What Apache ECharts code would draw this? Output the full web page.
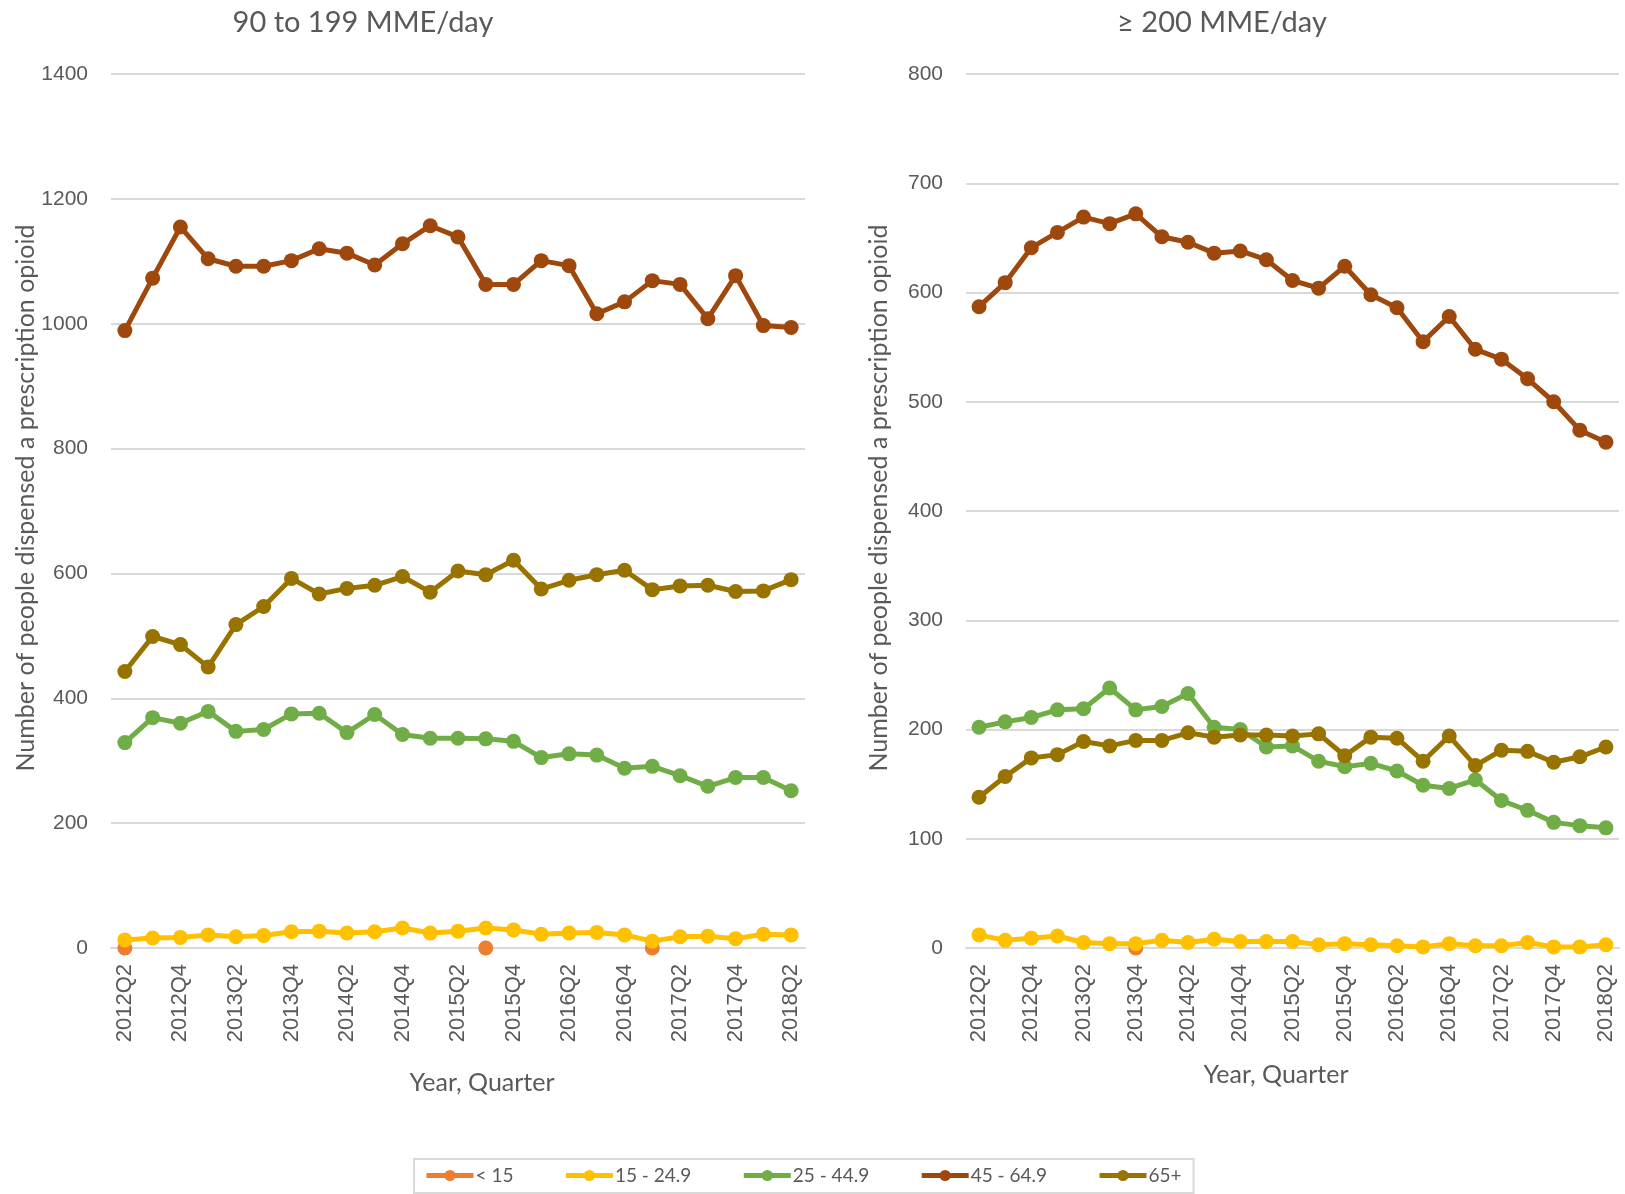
<!DOCTYPE html>
<html>
<head>
<meta charset="utf-8">
<script src="https://cdn.jsdelivr.net/npm/echarts@6/dist/echarts.min.js"></script>
<style>
  html, body { margin: 0; padding: 0; background: #ffffff; }
  #chart { width: 1625px; height: 1194px; }
</style>
</head>
<body>
<div id="chart"></div>
<script>
// Quarterly categories shared by both panels
const quarters = [
  '2012Q2', '2012Q3', '2012Q4',
  '2013Q1', '2013Q2', '2013Q3', '2013Q4',
  '2014Q1', '2014Q2', '2014Q3', '2014Q4',
  '2015Q1', '2015Q2', '2015Q3', '2015Q4',
  '2016Q1', '2016Q2', '2016Q3', '2016Q4',
  '2017Q1', '2017Q2', '2017Q3', '2017Q4',
  '2018Q1', '2018Q2'
];

// Age groups (legend) and their colours
const ageGroups = ['< 15', '15 - 24.9', '25 - 44.9', '45 - 64.9', '65+'];
const groupColors = ['#ED7D31', '#FFC000', '#70AD47', '#9E480E', '#997300'];

// Panel titles and axis ticks
const panelTitles = ['90 to 199 MME/day', '\u2265 200 MME/day'];
const yTicksMid = [0, 200, 400, 600, 800, 1000, 1200, 1400];
const yTicksHigh = [0, 100, 200, 300, 400, 500, 600, 700, 800];

// 90 to 199 MME/day: people dispensed a prescription opioid, by age group
const midLt15 = [0, null, null, null, null, null, null, null, null, null, null, null, null,
  0, null, null, null, null, null, 0, null, null, null, null, null];
const mid15to24 = [13, 16, 17, 21, 18, 20, 26, 27, 24, 26, 32, 24, 27, 32, 29, 22, 24, 25, 21, 11, 18, 19, 15, 22, 21];
const mid25to44 = [329, 369, 360, 379, 347, 350, 375, 376, 345, 374, 342, 336, 336, 335, 331, 305, 311, 309, 288, 291, 276, 259, 273, 273, 252];
const mid45to64 = [989, 1073, 1155, 1104, 1092, 1092, 1101, 1120, 1113, 1094, 1128, 1157, 1139, 1063, 1063, 1101, 1093, 1016, 1035, 1069, 1063, 1008, 1077, 997, 994];
const mid65plus = [443, 499, 486, 450, 518, 547, 592, 567, 576, 581, 595, 570, 604, 598, 621, 575, 589, 598, 605, 574, 580, 581, 571, 572, 590];

// >= 200 MME/day
const highLt15 = [null, null, null, null, null, null, 0, null, null, null, null, null, null,
  null, null, null, null, null, null, null, null, null, null, null, null];
const high15to24 = [12, 7, 9, 11, 5, 4, 4, 7, 5, 8, 6, 6, 6, 3, 4, 3, 2, 1, 4, 2, 2, 5, 1, 1, 3];
const high25to44 = [202, 207, 211, 218, 219, 238, 218, 221, 233, 202, 200, 184, 185, 171, 166, 169, 162, 149, 146, 154, 135, 126, 115, 112, 110];
const high45to64 = [587, 609, 641, 655, 669, 663, 672, 651, 646, 636, 638, 630, 611, 604, 624, 598, 586, 555, 578, 548, 539, 521, 500, 474, 463];
const high65plus = [138, 157, 174, 177, 189, 185, 190, 190, 197, 193, 195, 195, 194, 196, 176, 193, 192, 171, 194, 167, 181, 180, 170, 175, 184];

const panels = [
  [midLt15, mid15to24, mid25to44, mid45to64, mid65plus],
  [highLt15, high15to24, high25to44, high45to64, high65plus]
];
const yTicks = [yTicksMid, yTicksHigh];

const TEXT = '#595959';
const GRID_LINE = '#D9D9D9';
const UI_FONT = 'Lato, "Noto Sans", sans-serif';
const TICK_FONT = '"Liberation Sans", Arial, sans-serif';
const Y_TITLE = 'Number of people dispensed a prescription opioid';

const grids = [
  { left: 111, right: 820, top: 74, bottom: 246 },
  { left: 966, right: 6, top: 74, bottom: 246 }
];

const xAxes = grids.map((g, i) => ({
  type: 'category',
  gridIndex: i,
  data: quarters,
  boundaryGap: true,
  axisLine: { lineStyle: { color: GRID_LINE, width: 2 } },
  axisTick: { show: false },
  axisLabel: {
    interval: 1,
    rotate: 90,
    margin: 16,
    color: TEXT,
    fontFamily: TICK_FONT,
    fontSize: 22
  }
}));

const yAxes = grids.map((g, i) => {
  const t = yTicks[i];
  return {
    type: 'value',
    gridIndex: i,
    min: t[0],
    max: t[t.length - 1],
    interval: t[1] - t[0],
    axisLine: { show: false },
    axisTick: { show: false },
    splitLine: { lineStyle: { color: GRID_LINE, width: 2 } },
    axisLabel: {
      margin: 23,
      color: TEXT,
      fontFamily: TICK_FONT,
      fontSize: 21,
      formatter: (v) => String(v)
    }
  };
});

const series = [];
panels.forEach((panel, p) => {
  panel.forEach((values, k) => {
    series.push({
      name: ageGroups[k],
      type: 'line',
      xAxisIndex: p,
      yAxisIndex: p,
      data: values,
      connectNulls: false,
      symbol: 'circle',
      symbolSize: 15,
      showSymbol: true,
      lineStyle: { color: groupColors[k], width: 5 },
      itemStyle: { color: groupColors[k] },
      emphasis: { disabled: true }
    });
  });
});

function textEl(text, x, y, size, rotation) {
  return {
    type: 'text', x: x, y: y, rotation: rotation || 0, silent: true,
    style: {
      text: text, fill: TEXT, fontFamily: UI_FONT, fontSize: size,
      align: 'center', verticalAlign: 'middle'
    }
  };
}

const chart = echarts.init(document.getElementById('chart'), null, { renderer: 'canvas' });
chart.setOption({
  animation: false,
  backgroundColor: '#ffffff',
  color: groupColors,
  title: [
    {
      text: panelTitles[0], left: 358, top: 3, textAlign: 'center',
      textStyle: { color: TEXT, fontFamily: UI_FONT, fontSize: 29, fontWeight: 'normal' }
    },
    {
      text: panelTitles[1], left: 1217, top: 3, textAlign: 'center',
      textStyle: { color: TEXT, fontFamily: UI_FONT, fontSize: 29, fontWeight: 'normal' }
    }
  ],
  grid: grids,
  xAxis: xAxes,
  yAxis: yAxes,
  series: series,
  legend: {
    data: ageGroups,
    left: 414,
    top: 1159,
    orient: 'horizontal',
    padding: [7, 12, 8, 10],
    borderColor: GRID_LINE,
    borderWidth: 2,
    itemWidth: 47,
    itemHeight: 14,
    itemGap: 50,
    lineStyle: { width: 5 },
    textStyle: { color: TEXT, fontFamily: UI_FONT, fontSize: 19, padding: [0, 0, 0, -3] }
  },
  graphic: [
    textEl(Y_TITLE, 26, 498, 25, Math.PI / 2),
    textEl(Y_TITLE, 879, 498, 25, Math.PI / 2),
    textEl('Year, Quarter', 482, 1083, 25),
    textEl('Year, Quarter', 1276, 1075, 25)
  ]
});
</script>
</body>
</html>
